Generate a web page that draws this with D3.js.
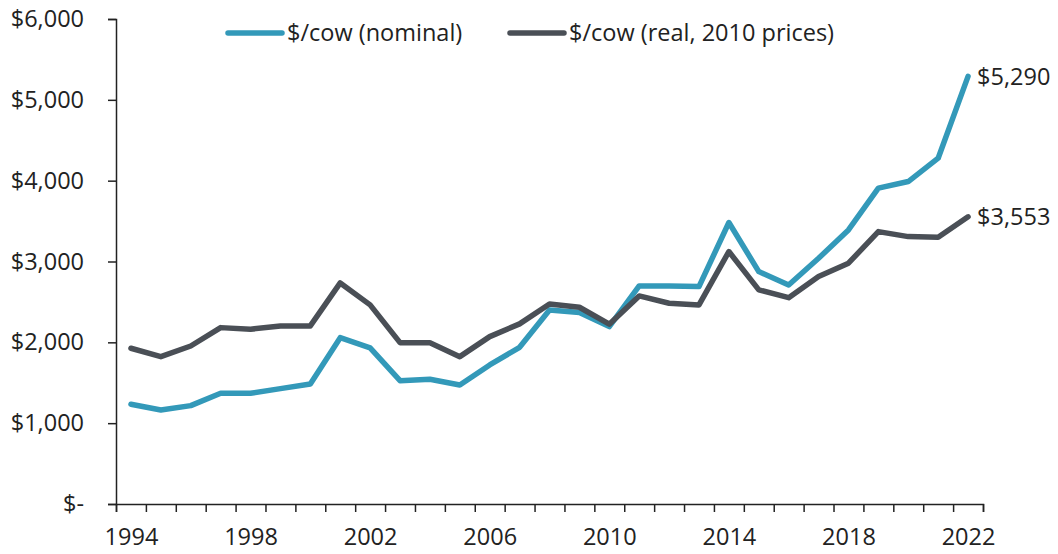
<!DOCTYPE html>
<html>
<head>
<meta charset="utf-8">
<script src="https://cdn.jsdelivr.net/npm/d3@7"></script>
<style>
  body { margin: 0; background: #fff; }
  svg text { font-family: "Open Sans", sans-serif; fill: #222; }
</style>
</head>
<body>
<div id="wrapper"></div>
<script>
// data
const years = d3.range(1994, 2023);
const nominal = [1234, 1163, 1217, 1370, 1370, 1427, 1485, 2058, 1931, 1526,
                 1543, 1473, 1720, 1939, 2401, 2368, 2195, 2698, 2698, 2690,
                 3482, 2875, 2710, 3040, 3391, 3907, 3989, 4278, 5290];
const real = [1927, 1823, 1955, 2182, 2162, 2203, 2203, 2735, 2463, 1996,
              1996, 1823, 2071, 2228, 2475, 2434, 2224, 2574, 2484, 2463,
              3123, 2649, 2553, 2813, 2979, 3370, 3308, 3300, 3553];
const yTicks = [0, 1000, 2000, 3000, 4000, 5000, 6000];
const xLabelYears = [1994, 1998, 2002, 2006, 2010, 2014, 2018, 2022];
const seriesNames = ["$/cow (nominal)", "$/cow (real, 2010 prices)"];
const endLabels = ["$5,290", "$3,553"];

const colors = ["#3399b9", "#4a4f56"];
const fontSize = "23.5px";

const dimensions = {
  width: 1058,
  height: 554,
  margin: { top: 19, right: 75, bottom: 50, left: 116 },
};
dimensions.boundedWidth = dimensions.width - dimensions.margin.left - dimensions.margin.right;
dimensions.boundedHeight = dimensions.height - dimensions.margin.top - dimensions.margin.bottom;

const wrapper = d3.select("#wrapper")
  .append("svg")
  .attr("width", dimensions.width)
  .attr("height", dimensions.height);

const bounds = wrapper.append("g")
  .attr("transform", `translate(${dimensions.margin.left},${dimensions.margin.top})`);

// category style axis: years sit in the middle of each slot
const xScale = d3.scaleLinear()
  .domain([1993.5, 2022.5])
  .range([0, dimensions.boundedWidth]);

const yScale = d3.scaleLinear()
  .domain([0, 6000])
  .range([dimensions.boundedHeight, 0]);

// axes
const yAxis = bounds.append("g")
  .call(d3.axisLeft(yScale)
    .tickValues(yTicks)
    .tickSize(8)
    .tickPadding(24)
    .tickFormat(d => d === 0 ? "$-" : "$" + d3.format(",")(d)));

const xAxis = bounds.append("g")
  .attr("transform", `translate(0,${dimensions.boundedHeight})`)
  .call(d3.axisBottom(xScale)
    .tickValues(d3.range(1993.5, 2023.5, 1))
    .tickSize(8)
    .tickSizeOuter(8)
    .tickFormat(""));

const xLabels = bounds.append("g")
  .attr("transform", `translate(0,${dimensions.boundedHeight})`)
  .call(d3.axisBottom(xScale)
    .tickValues(xLabelYears)
    .tickSize(0)
    .tickPadding(24)
    .tickFormat(d3.format("d")));
xLabels.select(".domain").remove();

[yAxis, xAxis].forEach(ax => {
  ax.selectAll(".domain, .tick line").attr("stroke", "#222").attr("stroke-width", 1.5);
});
[yAxis, xLabels].forEach(ax => {
  ax.selectAll("text").style("font-size", fontSize).attr("fill", "#222");
});

// lines
const lineGen = d3.line()
  .x((d, i) => xScale(years[i]))
  .y(d => yScale(d));

[nominal, real].forEach((series, i) => {
  bounds.append("path")
    .datum(series)
    .attr("fill", "none")
    .attr("stroke", colors[i])
    .attr("stroke-width", 5.5)
    .attr("stroke-linejoin", "round")
    .attr("stroke-linecap", "round")
    .attr("d", lineGen);

  bounds.append("text")
    .attr("x", xScale(years[years.length - 1]) + 9)
    .attr("y", yScale(series[series.length - 1]))
    .attr("dy", "0.35em")
    .style("font-size", fontSize)
    .text(endLabels[i]);
});

// legend
const legendX = [228, 510];
seriesNames.forEach((name, i) => {
  const g = wrapper.append("g")
    .attr("transform", `translate(${legendX[i]},33)`);
  g.append("line")
    .attr("x1", 0).attr("x2", 54)
    .attr("stroke", colors[i])
    .attr("stroke-width", 5.5)
    .attr("stroke-linecap", "round");
  g.append("text")
    .attr("x", 59)
    .attr("dy", "0.35em")
    .style("font-size", fontSize)
    .text(name);
});
</script>
</body>
</html>
